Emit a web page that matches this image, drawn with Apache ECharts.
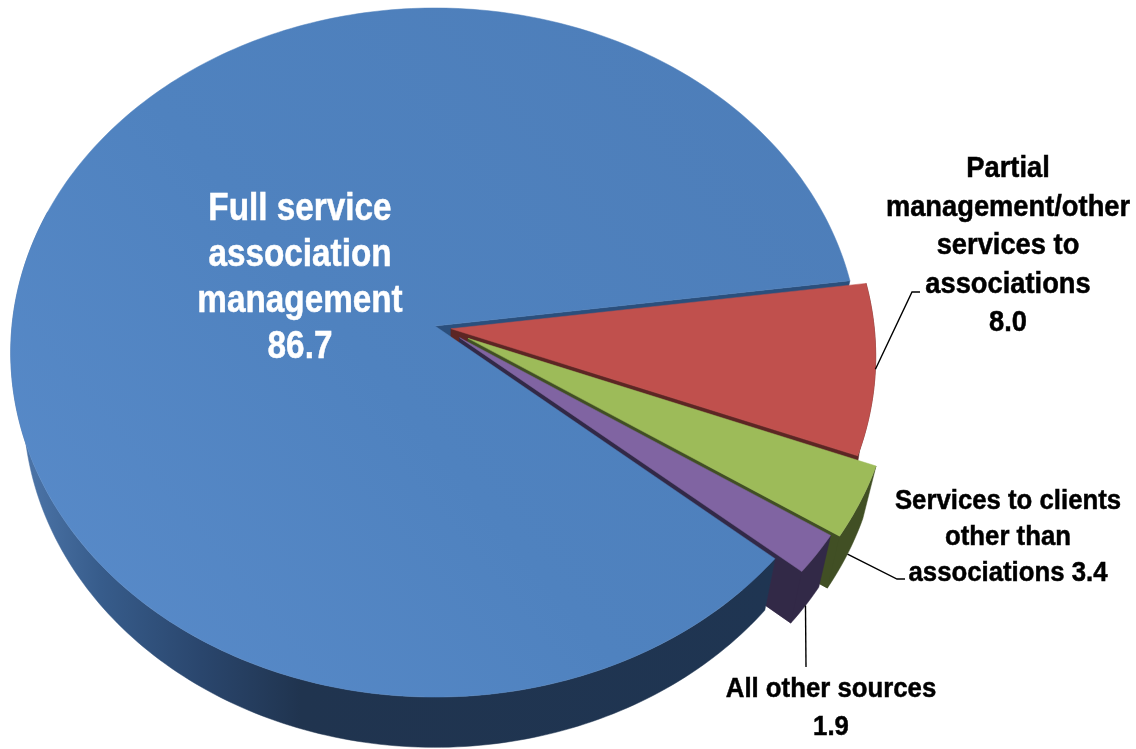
<!DOCTYPE html>
<html>
<head>
<meta charset="utf-8">
<style>
html, body { margin: 0; padding: 0; background: #fff; }
#chart { width: 1136px; height: 749px; }
</style>
<script src="https://cdn.jsdelivr.net/npm/echarts@6/dist/echarts.min.js"></script>
</head>
<body>
<div id="chart"></div>
<script>
// Revenue sources, percent of total
const categories = [
  'Full service association management',
  'Partial management/other services to associations',
  'Services to clients other than associations',
  'All other sources'
];
const seriesValues = [86.7, 8.0, 3.4, 1.9];

// How far each slice is pulled out of the pie, in disc radii
const explodeX = [0, 0.038, 0.078, 0.058];
const explodeY = [0, 0.008, 0.036, 0.034];

// Label line breaks; {v} stands for the slice value
const labelLines = [
  ['Full service', 'association', 'management', '{v}'],
  ['Partial', 'management/other', 'services to', 'associations', '{v}'],
  ['Services to clients', 'other than', 'associations {v}'],
  ['All other sources', '{v}']
];

// Pie geometry: plane units are the disc radius, projected with a mild perspective
const START_DEG = 40.2;
const PERSPECTIVE = 0.077;
const RADIUS_X_PX = 423;
const RADIUS_Y_PX = 342.5;
const APEX_X_PX = 435;
const APEX_Y_PX = 326;
const DEPTH = 54 / RADIUS_Y_PX;
const BASE_SCALE_X = 0.97;
const BASE_SCALE_Y = 0.99;

const topColors = ['#4f81bd', '#c0504d', '#9dbb59', '#8064a2'];
const wallColors = ['#1f3552', '#5c2624', '#414f24', '#322947'];
const blueCutColor = '#2b4f7c';

const labelStyles = [
  { color: '#ffffff', size: 38.5, scaleX: 0.865, cx: 300, y0: 209, step: 46 },
  { color: '#000000', size: 30, scaleX: 0.91, cx: 1008, y0: 169, step: 38.5 },
  { color: '#000000', size: 28, scaleX: 0.92, cx: 1008, y0: 501, step: 36 },
  { color: '#000000', size: 28, scaleX: 0.92, cx: 831, y0: 689, step: 38 }
];
// Leader elbows in chart pixels; the free end is taken from the slice itself
const leaders = [
  null,
  { face: 'top', via: [[912, 292], [920, 292]] },
  { face: 'base', via: [[897, 579], [905, 579]] },
  { face: 'base', via: [[806, 667]] }
];

const total = seriesValues.reduce((a, b) => a + b, 0);
const spans = [];
seriesValues.reduce((acc, v) => {
  const sweep = v / total * 360;
  spans.push([acc, acc + sweep]);
  return acc + sweep;
}, START_DEG);

function project(api, index, deg, radius, base) {
  const a = deg * Math.PI / 180;
  const X = radius * Math.cos(a) + explodeX[index];
  const Y = radius * Math.sin(a) + explodeY[index];
  const w = 1 - PERSPECTIVE * Y;
  let x = X / w;
  let y = Y / w;
  if (base) {
    x *= BASE_SCALE_X;
    y = y * BASE_SCALE_Y + DEPTH;
  }
  return api.coord([x, y]);
}

function arc(api, index, from, to, base) {
  const n = Math.max(2, Math.ceil(Math.abs(to - from)));
  const pts = [];
  for (let i = 0; i <= n; i++) {
    pts.push(project(api, index, from + (to - from) * i / n, 1, base));
  }
  return pts;
}

function polygon(points, fill, z2) {
  return { type: 'polygon', shape: { points }, style: { fill, stroke: fill, lineWidth: 0.5 }, z2, silent: true };
}

function blueSideFill() {
  return new echarts.graphic.LinearGradient(0, 0, 1, 0, [
    { offset: 0.03, color: '#4a72a5' },
    { offset: 0.118, color: '#375c8b' },
    { offset: 0.25, color: '#2a466d' },
    { offset: 0.38, color: '#20344f' },
    { offset: 1, color: '#1f3552' }
  ]);
}

function topFill(index) {
  if (index !== 0) return topColors[index];
  return new echarts.graphic.LinearGradient(1, 0, 0, 1, [
    { offset: 0, color: '#4d7db8' },
    { offset: 0.55, color: '#4f82bf' },
    { offset: 1, color: '#5a8ccb' }
  ]);
}

function renderSlice(params, api) {
  const i = api.value(0);
  const from = spans[i][0];
  const to = spans[i][1];
  const kids = [];
  // The blue slice sits above the others but its far cut face stays behind them
  const layer = i === 0 ? 20 : i * 5;

  const apexTop = project(api, i, 0, 0, false);
  const apexBase = project(api, i, 0, 0, true);
  const edgeTop = project(api, i, to, 1, false);
  const edgeBase = project(api, i, to, 1, true);

  if (i === 0) {
    kids.push(polygon([apexTop, edgeTop, edgeBase, apexBase], blueCutColor, 1));
    const sideTop = arc(api, i, from, 200, false);
    const sideBase = arc(api, i, from, 200, true);
    kids.push(polygon(sideTop.concat(sideBase.reverse()), blueSideFill(), layer));
  } else {
    // Outer wall and trailing cut face form one solid dark shape
    const sideTop = arc(api, i, from, to, false);
    const sideBase = arc(api, i, from, to, true);
    kids.push(polygon(
      [apexTop].concat(sideTop.slice().reverse(), sideBase, [apexBase]),
      wallColors[i],
      layer
    ));
    kids.push(polygon([apexTop, edgeTop, edgeBase, apexBase], wallColors[i], layer));
  }
  kids.push(polygon([apexTop].concat(arc(api, i, from, to, false)), topFill(i), layer + 1));

  // Leader line from the slice rim out to its label
  const leader = leaders[i];
  if (leader) {
    const midDeg = (from + to) / 2;
    const start = project(api, i, midDeg, 1, leader.face === 'base');
    kids.push({
      type: 'polyline',
      shape: { points: [start].concat(leader.via) },
      style: { stroke: '#000', lineWidth: 1.4, fill: null },
      z2: 30,
      silent: true
    });
  }

  // Multi-line label, squeezed slightly to the narrow face of the type
  const ls = labelStyles[i];
  const valueText = seriesValues[i].toFixed(1);
  labelLines[i].forEach((line, k) => {
    kids.push({
      type: 'text',
      x: ls.cx,
      y: ls.y0 + k * ls.step,
      scaleX: ls.scaleX,
      z2: 31,
      silent: true,
      style: {
        text: line.replace('{v}', valueText),
        x: 0,
        y: 0,
        align: 'center',
        verticalAlign: 'middle',
        fill: ls.color,
        stroke: ls.color,
        lineWidth: 0.5,
        fontFamily: '"Liberation Sans", Arial, sans-serif',
        fontWeight: 'bold',
        fontSize: ls.size
      }
    });
  });

  return { type: 'group', children: kids };
}

const chart = echarts.init(document.getElementById('chart'), null, { renderer: 'canvas' });
chart.setOption({
  animation: false,
  backgroundColor: '#ffffff',
  grid: { left: 0, right: 0, top: 0, bottom: 0 },
  xAxis: {
    type: 'value',
    min: -APEX_X_PX / RADIUS_X_PX,
    max: (1136 - APEX_X_PX) / RADIUS_X_PX,
    show: false
  },
  yAxis: {
    type: 'value',
    min: -APEX_Y_PX / RADIUS_Y_PX,
    max: (749 - APEX_Y_PX) / RADIUS_Y_PX,
    inverse: true,
    show: false
  },
  series: [{
    type: 'custom',
    name: 'Revenue sources',
    coordinateSystem: 'cartesian2d',
    clip: false,
    silent: true,
    renderItem: renderSlice,
    encode: { x: 0, y: 0 },
    data: categories.map((name, i) => ({ name, value: [i, seriesValues[i]] }))
  }]
});
</script>
</body>
</html>
